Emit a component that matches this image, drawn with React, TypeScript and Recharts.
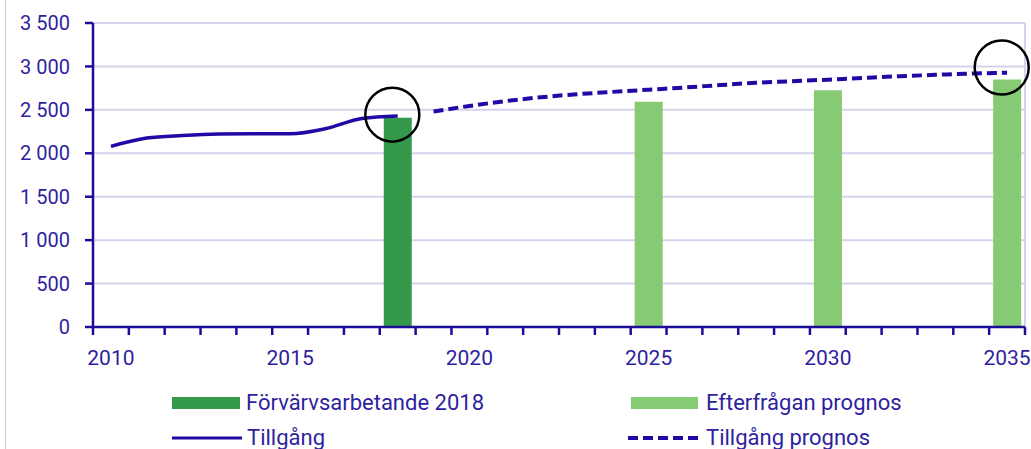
import React from 'react';
import {
  ComposedChart, Bar, Line, XAxis, YAxis, CartesianGrid, ReferenceDot, ReferenceLine,
} from 'recharts';

// ---- data ----
const years = [2010, 2011, 2012, 2013, 2014, 2015, 2016, 2017, 2018, 2019, 2020, 2021, 2022,
  2023, 2024, 2025, 2026, 2027, 2028, 2029, 2030, 2031, 2032, 2033, 2034, 2035];
const supplyYears = [2010, 2011, 2012, 2013, 2014, 2015, 2016, 2017, 2018];
const supply = [2080, 2175, 2205, 2222, 2225, 2225, 2285, 2400, 2430];
const forecastYears = [2019, 2020, 2021, 2022, 2023, 2024, 2025, 2026, 2027, 2028, 2029, 2030,
  2031, 2032, 2033, 2034, 2035];
const supplyForecast = [2480, 2545, 2600, 2645, 2680, 2707, 2732, 2757, 2785, 2812, 2830, 2848,
  2868, 2887, 2903, 2918, 2928];
const employedYears = [2018];
const employed = [2410];
const demandYears = [2025, 2030, 2035];
const demand = [2592, 2725, 2849];
const yTicks = [0, 500, 1000, 1500, 2000, 2500, 3000, 3500];
const labelYears = [2010, 2015, 2020, 2025, 2030, 2035];
// annotation circles (x in years, y in values)
const circles = [
  { x: 2017.85, y: 2445 },
  { x: 2034.85, y: 2987 },
];

const names = {
  employed: 'Förvärvsarbetande 2018',
  demand: 'Efterfrågan prognos',
  supply: 'Tillgång',
  supplyForecast: 'Tillgång prognos',
};

const data = years.map((year) => {
  const row: any = { year };
  const si = supplyYears.indexOf(year);
  if (si >= 0) row.supply = supply[si];
  const fi = forecastYears.indexOf(year);
  if (fi >= 0) row.supplyForecast = supplyForecast[fi];
  const ei = employedYears.indexOf(year);
  if (ei >= 0) row.employed = employed[ei];
  const di = demandYears.indexOf(year);
  if (di >= 0) row.demand = demand[di];
  return row;
});

const xTicks = [years[0] - 0.5, ...years.map((y) => y + 0.5)];

// ---- styles ----
const W = 1031;
const H = 449;
const MARGIN = { top: 23, right: 6, bottom: 72, left: 0 };
const Y_AXIS_W = 93;
const PLOT_W = W - MARGIN.left - MARGIN.right - Y_AXIS_W;
const HALF_STEP = PLOT_W / years.length / 2;

const TEXT = '#2e1f9e';
const AXIS = '#1c0d96';
const LINE = '#1f0aa6';
const GRID = '#d4d2ec';
const DARK_GREEN = '#34994a';
const LIGHT_GREEN = '#86cb74';
const FONT = 'Roboto, "Noto Sans", sans-serif';

const fmt = (v: number) => String(v).replace(/\B(?=(\d{3})+(?!\d))/g, ' ');

const XTick = (props: any) => {
  const { x, y, payload } = props;
  const year = payload.value + 0.5;
  if (!labelYears.includes(year)) return null;
  return (
    <text x={x + HALF_STEP} y={y} dy="0.71em" textAnchor="middle" fill={TEXT}
      fontSize={21} fontFamily={FONT}>
      {year}
    </text>
  );
};

const Legend = () => (
  <svg width={W} height={H} style={{ position: 'absolute', left: 0, top: 0, pointerEvents: 'none' }}>
    <g fontFamily={FONT} fontSize={22} fill={TEXT}>
      <rect x={172} y={397} width={68} height={12} fill={DARK_GREEN} />
      <text x={246} y={410}>{names.employed}</text>
      <rect x={631} y={397} width={67} height={12} fill={LIGHT_GREEN} />
      <text x={706} y={410}>{names.demand}</text>
      <line x1={172} y1={438} x2={242} y2={438} stroke={LINE} strokeWidth={3} />
      <text x={247} y={445}>{names.supply}</text>
      <line x1={628} y1={438} x2={700} y2={438} stroke={LINE} strokeWidth={4} strokeDasharray="10 5" />
      <text x={706} y={445}>{names.supplyForecast}</text>
    </g>
  </svg>
);

export default function App() {
  return (
    <div style={{ position: 'absolute', left: 0, top: 0, width: W, height: H, background: '#fff' }}>
      <div style={{ position: 'absolute', left: 5, top: 0, width: 1, height: H, background: '#c9c9c9' }} />
      <ComposedChart width={W} height={H} data={data} margin={MARGIN} style={{ fontFamily: FONT }}>
        <CartesianGrid vertical={false} stroke={GRID} strokeWidth={2} />
        <XAxis
          dataKey="year"
          type="number"
          domain={[xTicks[0], xTicks[xTicks.length - 1]]}
          ticks={xTicks}
          interval={0}
          allowDataOverflow
          tick={<XTick />}
          tickSize={8}
          tickMargin={15}
          height={50}
          axisLine={{ stroke: AXIS, strokeWidth: 2.5 }}
          tickLine={{ stroke: AXIS, strokeWidth: 2.5 }}
        />
        <YAxis
          width={Y_AXIS_W}
          domain={[0, 3500]}
          ticks={yTicks}
          interval={0}
          tickFormatter={fmt}
          tickSize={8}
          tickMargin={15}
          tick={{ fill: TEXT, fontSize: 20, fontFamily: FONT }}
          axisLine={{ stroke: AXIS, strokeWidth: 2.5 }}
          tickLine={{ stroke: AXIS, strokeWidth: 2.5 }}
        />
        <ReferenceLine x={xTicks[xTicks.length - 1]} stroke={GRID} strokeWidth={2} ifOverflow="visible" />
        <Bar dataKey="employed" name={names.employed} stackId="a" barSize={28} fill={DARK_GREEN} isAnimationActive={false} />
        <Bar dataKey="demand" name={names.demand} stackId="a" barSize={28} fill={LIGHT_GREEN} isAnimationActive={false} />
        <Line dataKey="supply" name={names.supply} type="monotone" stroke={LINE} strokeWidth={3.5}
          dot={false} activeDot={false} isAnimationActive={false} />
        <Line dataKey="supplyForecast" name={names.supplyForecast} type="monotone" stroke={LINE}
          strokeWidth={4} strokeDasharray="10 5" dot={false} activeDot={false} isAnimationActive={false} />
        {circles.map((c, i) => (
          <ReferenceDot key={i} x={c.x} y={c.y} r={27} fill="none" stroke="#000" strokeWidth={2.5}
            ifOverflow="visible" />
        ))}
      </ComposedChart>
      <Legend />
    </div>
  );
}
